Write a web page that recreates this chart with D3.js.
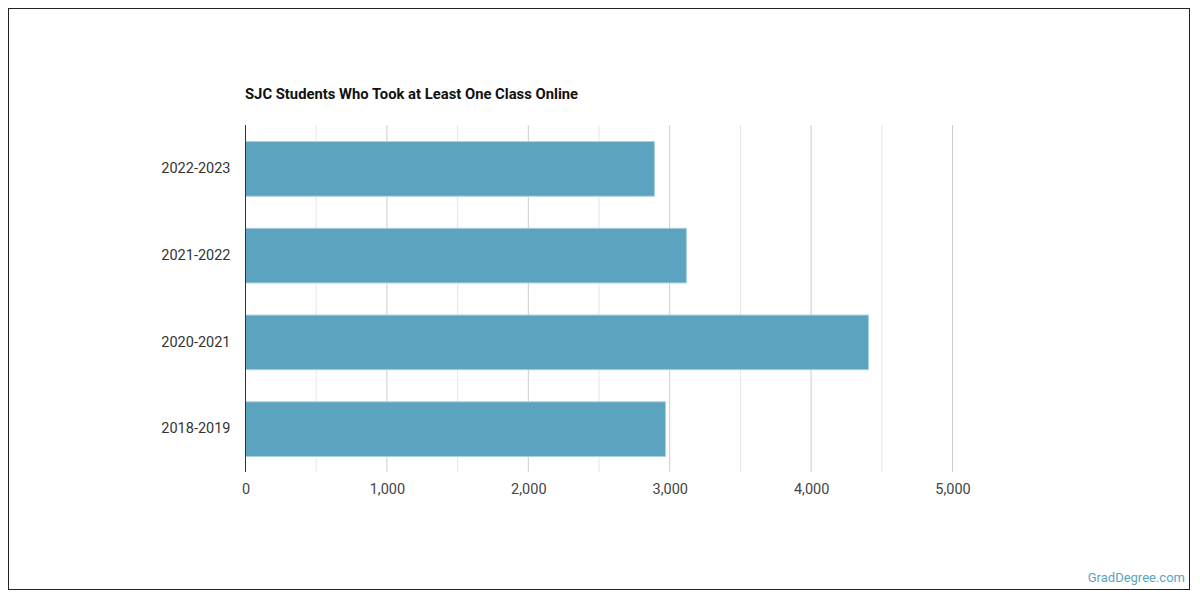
<!DOCTYPE html>
<html><head><meta charset="utf-8">
<script src="https://cdn.jsdelivr.net/npm/d3@7"></script>
<style>body{margin:0;background:#fff;font-family:Roboto,sans-serif}</style>
</head><body><svg id="c" width="1200" height="600"></svg>
<script>
const categories = ["2022-2023","2021-2022","2020-2021","2018-2019"];
const values = [2892, 3118, 4406, 2970];
const xTicks = [0,1000,2000,3000,4000,5000];
const minorTicks = [500,1500,2500,3500,4500];
const title = "SJC Students Who Took at Least One Class Online";

(function(){
const svg = d3.select("#c");
svg.append("rect").attr("x",8.5).attr("y",8.5).attr("width",1181).attr("height",581)
  .attr("fill","#fff").attr("stroke","#222").attr("stroke-width",1);

const pL=245.5, pR=952.5, pT=125, pB=472;
const x = d3.scaleLinear().domain([0,5000]).range([pL,pR]);
const y = d3.scaleBand().domain(categories).range([pT,pB]).paddingInner(0.37).paddingOuter(0.185);

svg.append("g").selectAll("line").data(minorTicks).join("line")
  .attr("x1",d=>x(d)).attr("x2",d=>x(d)).attr("y1",pT).attr("y2",pB)
  .attr("stroke","#e6e6e6").attr("stroke-width",1);
svg.append("g").selectAll("line").data(xTicks.slice(1)).join("line")
  .attr("x1",d=>x(d)).attr("x2",d=>x(d)).attr("y1",pT).attr("y2",pB)
  .attr("stroke","#cccccc").attr("stroke-width",1);

svg.append("g").selectAll("rect").data(values).join("rect")
  .attr("x",x(0)).attr("y",(d,i)=>y(categories[i])+0.5)
  .attr("width",d=>x(d)-x(0)).attr("height",y.bandwidth())
  .attr("fill","#5ba3bf").attr("stroke","#a9d0de").attr("stroke-width",1);

svg.append("line").attr("x1",pL).attr("x2",pL).attr("y1",pT).attr("y2",pB)
  .attr("stroke","#333").attr("stroke-width",1);

const xa = svg.append("g").attr("transform",`translate(0,${pB})`)
  .call(d3.axisBottom(x).tickValues(xTicks).tickFormat(d3.format(",")).tickSize(0).tickPadding(12));
xa.select(".domain").remove();
xa.selectAll("text").attr("font-family","Roboto,sans-serif").attr("font-size",14.5).attr("fill","#444");

const ya = svg.append("g").attr("transform",`translate(${pL},0)`)
  .call(d3.axisLeft(y).tickSize(0).tickPadding(15));
ya.select(".domain").remove();
ya.selectAll("text").attr("font-family","Roboto,sans-serif").attr("font-size",14.5).attr("fill","#333");

svg.append("text").attr("x",245).attr("y",99).text(title)
  .attr("font-family","Roboto,sans-serif").attr("font-weight","bold").attr("font-size",14.8).attr("fill","#111");

svg.append("text").attr("x",1185).attr("y",582).attr("text-anchor","end").text("GradDegree.com")
  .attr("font-family","Roboto,sans-serif").attr("font-size",13).attr("fill","#5ba3bf");
})();
</script></body></html>
